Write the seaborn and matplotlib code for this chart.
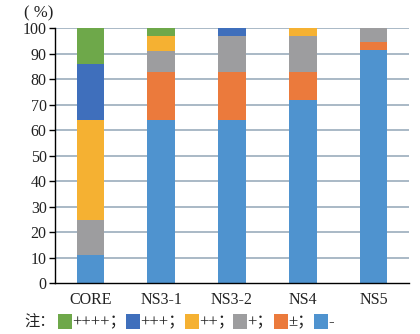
import numpy as np
import pandas as pd
import matplotlib
matplotlib.use("Agg")
import matplotlib.pyplot as plt
from matplotlib.patches import Rectangle
import seaborn as sns

# Samples and grading levels (stacked from bottom to top)
samples = ["CORE", "NS3-1", "NS3-2", "NS4", "NS5"]
grades = ["-", "±", "+", "++", "+++", "++++"]

# Percentage of each grade per sample
neg = [11, 64, 64, 72, 91.5]          # -
weak = [0, 19, 19, 11, 3]             # ±
plus1 = [14, 8, 14, 14, 5.5]          # +
plus2 = [39, 6, 0, 3, 0]              # ++
plus3 = [22, 0, 3, 0, 0]              # +++
plus4 = [14, 3, 0, 0, 0]              # ++++

colors = ["#4f93cf", "#eb7a3c", "#9d9d9f", "#f5b132", "#3f6fbc", "#6ea84a"]

yticks = list(range(0, 101, 10))

sns.set_theme(style="white")
serif = ["Liberation Serif", "Noto Sans CJK SC"]
plt.rcParams["font.family"] = serif

fig = plt.figure(figsize=(4.2, 3.34), dpi=100)
ax = fig.add_axes([55 / 420, 1 - 283.3 / 334, (409 - 55) / 420, (283.3 - 28.3) / 334])

series = [neg, weak, plus1, plus2, plus3, plus4]
bottom = np.zeros(len(samples))
for vals, col in zip(series, colors):
    df = pd.DataFrame({"sample": samples, "pct": vals})
    sns.barplot(data=df, x="sample", y="pct", color=col, width=0.39,
                bottom=bottom.copy(), ax=ax, saturation=1, linewidth=0,
                zorder=3)
    bottom += np.array(vals)

ax.set_xlim(-0.5, len(samples) - 0.5)
ax.set_ylim(0, 100)
ax.set_yticks(yticks)
ax.set_yticklabels([str(v) for v in yticks], fontsize=11.5, color="#222222")
ax.set_xlabel("")
ax.set_ylabel("")
ax.set_xticks(range(len(samples)))
ax.set_xticklabels(samples, fontsize=11.5, color="#222222")
ax.tick_params(axis="x", which="major", length=0, pad=6)
ax.set_xticks(np.arange(0.5, len(samples), 1.0), minor=True)
ax.tick_params(axis="x", which="minor", length=4, width=1, direction="out", color="black")
ax.tick_params(axis="y", length=4, width=1, direction="out", color="black", pad=2, left=True)

for v in yticks[1:]:
    ax.axhline(v, color="#a3b3c2", lw=1.3, zorder=1)

for s in ["top", "right"]:
    ax.spines[s].set_visible(False)
for s in ["left", "bottom"]:
    ax.spines[s].set_color("black")
    ax.spines[s].set_linewidth(1.0)
    ax.spines[s].set_zorder(5)

fig.text(39 / 420, 1 - 13 / 334, "( %)", fontsize=12, ha="center", va="center",
         family=serif, color="#222222")

# Legend row along the bottom
ly = 1 - 322 / 334
fig.text(24 / 420, ly, "注：", fontsize=11, ha="left", va="center",
         family=["Noto Sans CJK SC"], color="#222222")
legend_items = [
    (58, colors[5], "++++；"),
    (126, colors[4], "+++；"),
    (185, colors[3], "++；"),
    (233, colors[2], "+；"),
    (274, colors[1], "±；"),
    (314, colors[0], "-"),
]
for x0, col, lab in legend_items:
    fig.patches.append(Rectangle((x0 / 420, 1 - 329 / 334), 14 / 420, 15 / 334,
                                 transform=fig.transFigure, facecolor=col,
                                 edgecolor="none"))
    fig.text((x0 + 14.5) / 420, ly, lab, fontsize=12, ha="left", va="center",
             family=serif, color="#222222")

fig.savefig("out.png", dpi=100)
